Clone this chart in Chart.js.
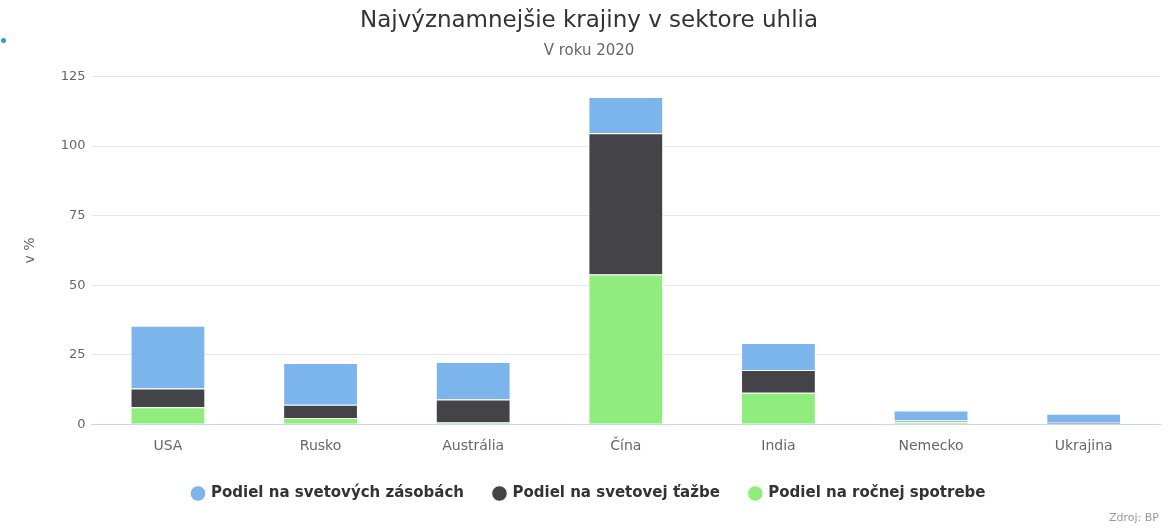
<!DOCTYPE html>
<html>
<head>
<meta charset="utf-8">
<script src="https://cdn.jsdelivr.net/npm/chart.js@4"></script>
<style>
    html, body { margin: 0; padding: 0; background: #fff; }
    #wrap { position: relative; width: 1172px; height: 532px; }
    #credits { position: absolute; right: 13px; bottom: 8px; font: 11px "DejaVu Sans", sans-serif; color: #999; }
    #dot { position: absolute; left: 1px; top: 38px; width: 5px; height: 5px; border-radius: 50%; background: #2f9bd6; }
</style>
</head>
<body>
<div id="wrap">
    <canvas id="coalChart" width="1172" height="532"></canvas>
    <div id="dot"></div>
    <div id="credits">Zdroj: BP</div>
</div>
<script>
const countries = ['USA', 'Rusko', 'Austrália', 'Čína', 'India', 'Nemecko', 'Ukrajina'];
const reserves = [22.6, 15.0, 13.5, 13.1, 9.7, 3.6, 3.3];      // Podiel na svetových zásobách
const production = [6.7, 4.8, 8.3, 50.8, 8.2, 0.4, 0.3];       // Podiel na svetovej ťažbe
const consumption = [6.1, 2.2, 0.6, 53.8, 11.3, 0.9, 0.2];     // Podiel na ročnej spotrebe
const yTicks = [0, 25, 50, 75, 100, 125];

const FONT = '"DejaVu Sans", sans-serif';

// posun legendy bez zmeny plochy grafu
const legendShift = {
    id: 'legendShift',
    afterLayout(chart) {
        chart.legend.top -= 5;
        chart.legend.bottom -= 5;
    }
};

// Highcharts kreslí prvú sériu navrchu -> v Chart.js opačné poradie + reverse legenda
const ctx = document.getElementById('coalChart').getContext('2d');
const coalChart = new Chart(ctx, {
    type: 'bar',
    data: {
        labels: countries,
        datasets: [
            {
                label: 'Podiel na ročnej spotrebe',
                data: consumption,
                backgroundColor: '#90ed7d',
                borderColor: '#ffffff',
                borderWidth: 1
            },
            {
                label: 'Podiel na svetovej ťažbe',
                data: production,
                backgroundColor: '#434348',
                borderColor: '#ffffff',
                borderWidth: 1
            },
            {
                label: 'Podiel na svetových zásobách',
                data: reserves,
                backgroundColor: '#7cb5ec',
                borderColor: '#ffffff',
                borderWidth: 1
            }
        ]
    },
    options: {
        responsive: false,
        animation: false,
        layout: {
            padding: { left: 18, right: 12, top: 0, bottom: 16 }
        },
        datasets: {
            bar: {
                categoryPercentage: 1,
                barPercentage: 0.49
            }
        },
        scales: {
            x: {
                stacked: true,
                grid: { display: false },
                border: { display: true, color: '#ccd6eb', width: 1 },
                ticks: {
                    color: '#666',
                    font: { family: FONT, size: 14 },
                    padding: 6
                }
            },
            y: {
                stacked: true,
                min: 0,
                max: 125,
                afterBuildTicks: function(scale) {
                    scale.ticks = yTicks.map(v => ({ value: v }));
                },
                grid: { color: '#e6e6e6', drawTicks: false },
                border: { display: false },
                title: {
                    display: true,
                    text: 'v %',
                    color: '#666',
                    font: { family: FONT, size: 14 },
                    padding: { bottom: 16 }
                },
                ticks: {
                    color: '#666',
                    font: { family: FONT, size: 13 },
                    padding: 6
                }
            }
        },
        plugins: {
            title: {
                display: true,
                text: 'Najvýznamnejšie krajiny v sektore uhlia',
                color: '#333',
                font: { family: FONT, size: 23, weight: 'normal' },
                padding: { top: 7, bottom: 8 }
            },
            subtitle: {
                display: true,
                text: 'V roku 2020',
                color: '#666',
                font: { family: FONT, size: 15, weight: 'normal' },
                padding: { bottom: 16 }
            },
            legend: {
                position: 'bottom',
                reverse: true,
                labels: {
                    usePointStyle: true,
                    pointStyle: 'circle',
                    boxWidth: 11,
                    boxHeight: 11,
                    padding: 30,
                    color: '#333',
                    font: { family: FONT, size: 15, weight: 'bold' }
                }
            },
            tooltip: { enabled: false }
        }
    },
    plugins: [legendShift]
});
</script>
</body>
</html>
